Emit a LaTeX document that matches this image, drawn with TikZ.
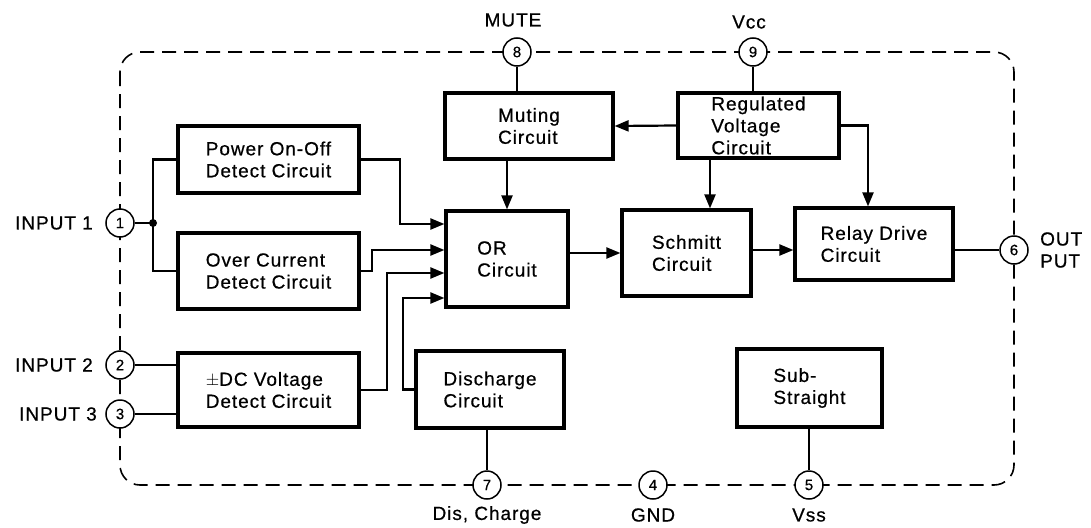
\documentclass[tikz,border=0pt]{standalone}
\usepackage{fontspec}
\setmainfont{Liberation Sans}[LetterSpace=5,FakeBold=0.6]
\usetikzlibrary{arrows.meta}
\tikzset{
  blk/.style={draw, line width=3.2pt, inner sep=0pt, align=left, font=\fontsize{19}{22}\selectfont},
  lbl/.style={inner sep=0pt, align=left, font=\fontsize{19}{22}\selectfont},
  wire/.style={line width=2.2pt},
  arr/.style={line width=2.2pt, -{Triangle[length=14pt,width=11pt]}},
  pin/.style={circle, draw, line width=1.5pt, fill=white, minimum size=28pt, inner sep=0pt, font=\fontsize{15}{15}\selectfont},
  border/.style={line width=1.6pt, dash pattern=on 14pt off 8pt, rounded corners=20pt}
}
\begin{document}
\begin{tikzpicture}[x=1pt,y=-1pt]
\useasboundingbox (0,0) rectangle (1091,527);
\draw[border] (120,52) rectangle (1014,485);
% blocks
\node[blk, minimum width=181pt, minimum height=67pt] (pow) at (268.5,159.5) {Power On-Off\\Detect Circuit};
\node[blk, minimum width=181pt, minimum height=76pt] (ovc) at (268.5,271) {Over Current\\Detect Circuit};
\node[blk, minimum width=181pt, minimum height=74pt] (dcv) at (268.5,390) {$\pm$DC Voltage\\Detect Circuit};
\node[blk, minimum width=122pt, minimum height=96pt] (orc) at (507,259) {OR\\Circuit};
\node[blk, minimum width=168pt, minimum height=66pt] (mut) at (529,126) {Muting\\Circuit};
\node[blk, minimum width=161pt, minimum height=65pt] (reg) at (758.5,125.5) {Regulated\\Voltage\\Circuit};
\node[blk, minimum width=129pt, minimum height=86pt] (sch) at (686.5,253) {Schmitt\\Circuit};
\node[blk, minimum width=158pt, minimum height=72pt] (rel) at (874,244) {Relay Drive\\Circuit};
\node[blk, minimum width=148pt, minimum height=77pt] (dis) at (490,389.5) {Discharge\\Circuit};
\node[blk, minimum width=145pt, minimum height=78pt] (sub) at (809.5,388) {Sub-\\Straight};
% pins
\node[pin] (p1) at (120,223) {1};
\node[pin] (p2) at (120,365) {2};
\node[pin] (p3) at (120,414) {3};
\node[pin] (p8) at (517,52) {8};
\node[pin] (p9) at (753,52) {9};
\node[pin] (p7) at (487,485) {7};
\node[pin] (p4) at (653,485) {4};
\node[pin] (p5) at (809,485) {5};
\node[pin] (p6) at (1014,250) {6};
% pin labels
\node[lbl, anchor=east] (l1) at (93,223) {INPUT 1};
\node[lbl, anchor=east] (l2) at (93,365) {INPUT 2};
\node[lbl, anchor=east] (l3) at (97,414) {INPUT 3};
\node[lbl] (l8) at (513,20) {MUTE};
\node[lbl] (l9) at (749,22) {Vcc};
\node[lbl] (l7) at (487,515) {Dis, Charge};
\node[lbl] (l4) at (653,515) {GND};
\node[lbl] (l5) at (809,515) {Vss};
\node[lbl, anchor=west] (l6) at (1040,250) {OUT\\PUT};
% connectors
\coordinate (j) at (153,223);
\draw[wire] (p1) -- (j);
\draw[wire] (pow.west) -| (j) |- (ovc.west);
\fill (j) circle (4pt);
\draw[arr] (pow.east) -| (400,224) -- (orc.west |- 0,224);
\draw[arr] (ovc.east) -| (372,250) -- (orc.west |- 0,250);
\draw[arr] (dcv.east) -| (387,273) -- (orc.west |- 0,273);
\draw[arr] (dis.west) -| (403,298) -- (orc.west |- 0,298);
\draw[wire] (p2) -- (dcv.west |- p2);
\draw[wire] (p3) -- (dcv.west |- p3);
\draw[wire] (p8) -- (mut.north -| p8);
\draw[wire] (p9) -- (reg.north -| p9);
\draw[arr] (orc.north |- mut.south) -- (orc.north);
\draw[arr] (reg.west) -- (mut.east);
\draw[arr] (reg.south -| 710,0) -- (sch.north -| 710,0);
\draw[arr] (reg.east) -| (rel.north -| 868,0);
\draw[arr] (orc.east |- 0,253) -- (sch.west |- 0,253);
\draw[arr] (sch.east |- 0,250) -- (rel.west |- 0,250);
\draw[wire] (rel.east |- p6) -- (p6);
\draw[wire] (dis.south -| p7) -- (p7);
\draw[wire] (sub.south -| p5) -- (p5);
\end{tikzpicture}
\end{document}
